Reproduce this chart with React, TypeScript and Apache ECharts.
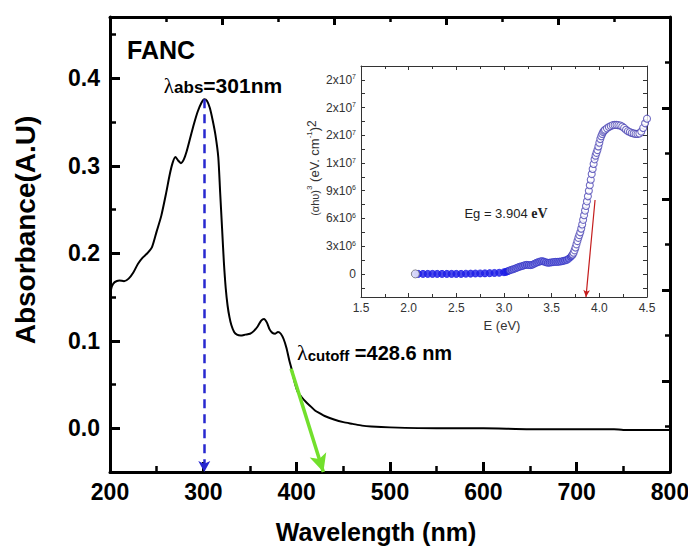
import React, { useEffect, useRef } from 'react';
import * as echarts from 'echarts';

// ---------- Main spectrum ----------
const wavelength = [200, 202, 205, 210, 215, 220, 225, 230, 235, 240, 245, 250, 255, 260, 264, 267, 270, 273, 276, 279, 282, 286, 290, 294, 298, 301, 304, 307, 310, 313, 316, 318, 320, 322, 324, 326, 328, 330, 333, 336, 340, 345, 350, 354, 358, 362, 365, 368, 371, 374, 377, 380, 383, 386, 389, 392, 395, 398, 401, 405, 410, 415, 420, 425, 430, 440, 450, 460, 470, 480, 500, 550, 600, 650, 700, 740, 750, 800];
const absorbance = [0.152, 0.162, 0.167, 0.169, 0.168, 0.171, 0.178, 0.188, 0.195, 0.2, 0.207, 0.225, 0.243, 0.268, 0.29, 0.303, 0.31, 0.306, 0.303, 0.307, 0.316, 0.332, 0.348, 0.362, 0.372, 0.376, 0.374, 0.366, 0.352, 0.335, 0.31, 0.27, 0.23, 0.19, 0.16, 0.14, 0.127, 0.118, 0.11, 0.107, 0.106, 0.107, 0.108, 0.111, 0.116, 0.123, 0.125, 0.121, 0.113, 0.109, 0.108, 0.11, 0.108, 0.102, 0.092, 0.078, 0.066, 0.052, 0.042, 0.036, 0.03, 0.025, 0.02, 0.017, 0.014, 0.01, 0.007, 0.005, 0.003, 0.002, 0.001, 0.0, 0.0, -0.001, -0.001, -0.001, -0.002, -0.002];

const mainYLabelValues = [0, 0.1, 0.2, 0.3, 0.4];
const mainYMinorValues = [0.05, 0.15, 0.25, 0.35, 0.45];

// annotations
const peakWavelength = 301;
const peakAbsorbance = 0.376;
const cutoffStart = [394, 0.068];
const cutoffWavelength = 428.6;

// ---------- Inset (Tauc plot) ----------
const insetEnergy = [2.07, 2.10, 2.15, 2.20, 2.25, 2.30, 2.35, 2.40, 2.45, 2.50, 2.55, 2.60, 2.65, 2.70, 2.75, 2.80, 2.85, 2.90, 2.95, 3.00,
  3.02, 3.04, 3.06, 3.08, 3.10, 3.12, 3.14, 3.16, 3.18, 3.20, 3.22, 3.24, 3.26, 3.28, 3.30, 3.32, 3.34, 3.36, 3.38, 3.40, 3.42, 3.44, 3.46, 3.48, 3.50, 3.52, 3.54, 3.56, 3.58, 3.60, 3.62, 3.64, 3.66, 3.68,
  3.70, 3.71, 3.72, 3.73, 3.74, 3.75, 3.76, 3.77, 3.78, 3.79, 3.80, 3.81, 3.82, 3.83, 3.84, 3.85, 3.86, 3.87, 3.88, 3.89, 3.90, 3.91, 3.92, 3.93, 3.94, 3.95, 3.96, 3.97, 3.98, 3.99, 4.00, 4.01, 4.02, 4.03, 4.04, 4.05, 4.06,
  4.08, 4.10, 4.12, 4.14, 4.16, 4.18, 4.20, 4.22, 4.24, 4.26, 4.28, 4.30, 4.32, 4.34, 4.36, 4.38, 4.40, 4.42, 4.44, 4.46, 4.48, 4.50];
const insetValue = [0, 0, 0, 0, 0, 0, 0, 0, 0, 0, 0, 0.02e6, 0.03e6, 0.04e6, 0.05e6, 0.06e6, 0.08e6, 0.1e6, 0.12e6, 0.18e6,
  0.22e6, 0.3e6, 0.38e6, 0.45e6, 0.52e6, 0.6e6, 0.68e6, 0.76e6, 0.82e6, 0.88e6, 0.95e6, 0.98e6, 0.96e6, 0.95e6, 1.0e6, 1.1e6, 1.2e6, 1.28e6, 1.35e6, 1.38e6, 1.33e6, 1.25e6, 1.2e6, 1.22e6, 1.25e6, 1.28e6, 1.3e6, 1.3e6, 1.32e6, 1.35e6, 1.4e6, 1.45e6, 1.52e6, 1.65e6,
  1.85e6, 1.95e6, 2.1e6, 2.3e6, 2.55e6, 2.85e6, 3.2e6, 3.55e6, 3.9e6, 4.2e6, 4.5e6, 4.9e6, 5.35e6, 5.85e6, 6.35e6, 6.85e6, 7.35e6, 7.85e6, 8.4e6, 9.0e6, 9.6e6, 10.2e6, 10.8e6, 11.35e6, 11.9e6, 12.4e6, 12.8e6, 13.1e6, 13.4e6, 13.8e6, 14.2e6, 14.6e6, 14.9e6, 15.15e6, 15.35e6, 15.5e6, 15.6e6,
  15.75e6, 15.9e6, 16.0e6, 16.1e6, 16.12e6, 16.12e6, 16.1e6, 16.05e6, 15.95e6, 15.8e6, 15.6e6, 15.45e6, 15.35e6, 15.25e6, 15.2e6, 15.15e6, 15.15e6, 15.2e6, 15.4e6, 15.8e6, 16.3e6, 16.8e6];

const insetYLabelValues = [0, 3e6, 6e6, 9e6, 1.2e7, 1.5e7, 1.8e7, 2.1e7];
const insetYTickValues = [-1.5e6, 0, 1.5e6, 3e6, 4.5e6, 6e6, 7.5e6, 9e6, 10.5e6, 1.2e7, 1.35e7, 1.5e7, 1.65e7, 1.8e7, 1.95e7, 2.1e7];
const bandGapArrowStart = [3.955, 8.0e6];
const bandGapArrowEnd = [3.86, -2.5e6];

const FONT = '"Liberation Sans", Arial, Helvetica, sans-serif';
const SERIF = '"Liberation Serif", "Times New Roman", serif';

function buildOption() {
  const mainData = wavelength.map((w, i) => [w, absorbance[i]]);
  const insetPts = insetEnergy.map((e, i) => [e, insetValue[i]]);
  const densePts = insetPts.filter((p) => p[0] < 3.05);
  const midPts = insetPts.filter((p) => p[0] >= 3.05 && p[0] < 3.72);
  const openPts = insetPts.filter((p) => p[0] >= 3.72);

  const thickLine = { lineStyle: { color: '#000', width: 3 } };
  const insetLine = { lineStyle: { color: '#333', width: 1 } };

  const supFormatter = (v: number) => {
    if (v === 0) return '0';
    const exp = Math.floor(Math.log10(v) + 1e-9);
    const m = Math.round(v / Math.pow(10, exp));
    return `${m}x10{sup|${exp}}`;
  };

  return {
    animation: false,
    backgroundColor: '#fff',
    grid: [
      { left: 110, top: 17, width: 560, height: 455, outerBoundsMode: 'none', containLabel: false },
      { left: 361, top: 66, width: 286, height: 231, outerBoundsMode: 'none', containLabel: false },
    ],
    xAxis: [
      {
        gridIndex: 0, type: 'value', position: 'bottom', min: 200, max: 800, interval: 100,
        axisLine: { show: true, onZero: false, ...thickLine },
        axisTick: { show: true, inside: true, length: 10, lineStyle: { color: '#000', width: 3 } },
        minorTick: { show: true, splitNumber: 2, length: 6, lineStyle: { color: '#000', width: 2.5 } },
        splitLine: { show: false },
        axisLabel: { show: true, fontFamily: FONT, fontWeight: 'bold', fontSize: 23, color: '#000', margin: 8 },
      },
      {
        gridIndex: 0, type: 'value', position: 'top', min: 0, max: 10, interval: 2,
        axisLine: { show: true, onZero: false, ...thickLine },
        axisTick: { show: true, inside: true, length: 8, lineStyle: { color: '#000', width: 3 } },
        minorTick: { show: true, splitNumber: 2, length: 5, lineStyle: { color: '#000', width: 2.5 } },
        splitLine: { show: false },
        axisLabel: { show: false },
      },
      {
        gridIndex: 1, type: 'value', position: 'bottom', min: 1.5, max: 4.5, interval: 0.5,
        axisLine: { show: true, onZero: false, ...insetLine },
        axisTick: { show: true, inside: true, length: 4, lineStyle: { color: '#333', width: 1 } },
        minorTick: { show: true, splitNumber: 2, length: 3, lineStyle: { color: '#333', width: 1 } },
        splitLine: { show: false },
        axisLabel: { show: true, fontFamily: FONT, fontSize: 12, color: '#333', margin: 5, formatter: (v: number) => v.toFixed(1) },
      },
      {
        gridIndex: 1, type: 'value', position: 'top', min: 1.5, max: 4.5, interval: 0.5,
        axisLine: { show: true, onZero: false, ...insetLine },
        axisTick: { show: true, inside: true, length: 4, lineStyle: { color: '#333', width: 1 } },
        minorTick: { show: true, splitNumber: 2, length: 3, lineStyle: { color: '#333', width: 1 } },
        splitLine: { show: false },
        axisLabel: { show: false },
      },
    ],
    yAxis: [
      {
        gridIndex: 0, type: 'value', position: 'left', min: -0.05, max: 0.47,
        axisLine: { show: true, onZero: false, ...thickLine },
        axisTick: { show: true, inside: true, length: 10, customValues: mainYLabelValues, lineStyle: { color: '#000', width: 3 } },
        splitLine: { show: false },
        axisLabel: { show: true, customValues: mainYLabelValues, fontFamily: FONT, fontWeight: 'bold', fontSize: 23, color: '#000', margin: 10, formatter: (v: number) => v.toFixed(1) },
      },
      {
        gridIndex: 0, type: 'value', position: 'right', min: 0, max: 10, interval: 2,
        axisLine: { show: true, onZero: false, ...thickLine },
        axisTick: { show: true, inside: true, length: 8, lineStyle: { color: '#000', width: 3 } },
        minorTick: { show: true, splitNumber: 2, length: 5, lineStyle: { color: '#000', width: 2.5 } },
        splitLine: { show: false },
        axisLabel: { show: false },
      },
      {
        gridIndex: 0, type: 'value', position: 'left', min: -0.05, max: 0.47,
        axisLine: { show: false },
        axisTick: { show: true, inside: true, length: 6, customValues: mainYMinorValues, lineStyle: { color: '#000', width: 2.5 } },
        splitLine: { show: false },
        axisLabel: { show: false },
      },
      {
        gridIndex: 1, type: 'value', position: 'left', min: -2.5e6, max: 2.25e7,
        axisLine: { show: true, onZero: false, ...insetLine },
        axisTick: { show: true, inside: true, length: 4, customValues: insetYTickValues, lineStyle: { color: '#333', width: 1 } },
        splitLine: { show: false },
        axisLabel: {
          show: true, customValues: insetYLabelValues, fontFamily: FONT, fontSize: 12, color: '#333', margin: 5,
          formatter: supFormatter,
          rich: { sup: { fontFamily: FONT, fontSize: 7, color: '#333', verticalAlign: 'top', padding: [0, 0, 6, 0] } },
        },
      },
      {
        gridIndex: 1, type: 'value', position: 'right', min: -2.5e6, max: 2.25e7,
        axisLine: { show: true, onZero: false, ...insetLine },
        axisTick: { show: true, inside: true, length: 4, customValues: insetYTickValues, lineStyle: { color: '#333', width: 1 } },
        splitLine: { show: false },
        axisLabel: { show: false },
      },
    ],
    series: [
      {
        name: 'Absorbance', type: 'line', xAxisIndex: 0, yAxisIndex: 0, data: mainData,
        showSymbol: false, smooth: 0.25, lineStyle: { color: '#000', width: 2 }, z: 3,
        markLine: {
          silent: true, animation: false, label: { show: false }, symbol: ['none', 'arrow'],
          data: [
            [
              { coord: [peakWavelength, peakAbsorbance], symbol: 'none', lineStyle: { color: '#2828d0', width: 2.5, type: [9, 6] } },
              { coord: [peakWavelength, -0.05], symbol: 'arrow', symbolSize: [9, 11] },
            ],
            [
              { coord: cutoffStart, symbol: 'none', lineStyle: { color: '#72e02c', width: 3.5, type: 'solid' } },
              { coord: [cutoffWavelength, -0.05], symbol: 'arrow', symbolSize: [13, 18] },
            ],
          ],
        },
      },
      {
        name: 'Tauc dense', type: 'scatter', xAxisIndex: 2, yAxisIndex: 3, data: densePts,
        symbol: 'circle', symbolSize: 7,
        itemStyle: { color: '#1e1ee6', borderColor: '#1e1ee6', borderWidth: 1 }, z: 4,
      },
      {
        name: 'Tauc mid', type: 'scatter', xAxisIndex: 2, yAxisIndex: 3, data: midPts,
        symbol: 'circle', symbolSize: 7,
        itemStyle: { color: '#7272dc', borderColor: '#3434c4', borderWidth: 1 }, z: 4,
      },
      {
        name: 'Tauc open', type: 'scatter', xAxisIndex: 2, yAxisIndex: 3, data: openPts,
        symbol: 'circle', symbolSize: 7,
        itemStyle: { color: '#ffffff', borderColor: '#4c46b4', borderWidth: 1.1 }, z: 4,
        markLine: {
          silent: true, animation: false, label: { show: false }, symbol: ['none', 'arrow'],
          data: [
            [
              { coord: bandGapArrowStart, symbol: 'none', lineStyle: { color: '#c41c1c', width: 1.2, type: 'solid' } },
              { coord: bandGapArrowEnd, symbol: 'arrow', symbolSize: [5, 7] },
            ],
          ],
        },
      },
      {
        name: 'Tauc first', type: 'scatter', xAxisIndex: 2, yAxisIndex: 3, data: [insetPts[0]],
        symbol: 'circle', symbolSize: 8,
        itemStyle: { color: '#ffffff', borderColor: '#777', borderWidth: 1 }, z: 5,
      },
    ],
    graphic: {
      elements: [
        {
          type: 'text', x: 127, y: 50,
          style: { text: 'FANC', fontFamily: FONT, fontWeight: 'bold', fontSize: 25, fill: '#000', align: 'left', verticalAlign: 'middle' },
        },
        {
          type: 'text', x: 223, y: 84,
          style: {
            text: '{l|λ}{s|abs}{b|=301nm}', align: 'center', verticalAlign: 'middle', fill: '#000',
            rich: {
              l: { fontFamily: SERIF, fontSize: 21, fill: '#000', verticalAlign: 'bottom', lineHeight: 24 },
              s: { fontFamily: FONT, fontWeight: 'bold', fontSize: 17, fill: '#000', verticalAlign: 'bottom', lineHeight: 22 },
              b: { fontFamily: FONT, fontWeight: 'bold', fontSize: 21, fill: '#000', verticalAlign: 'bottom', lineHeight: 24 },
            },
          },
        },
        {
          type: 'text', x: 297, y: 351,
          style: {
            text: '{l|λ}{s|cutoff}{b| =428.6 nm}', align: 'left', verticalAlign: 'middle', fill: '#000',
            rich: {
              l: { fontFamily: SERIF, fontSize: 22, fill: '#000', verticalAlign: 'bottom', lineHeight: 24 },
              s: { fontFamily: FONT, fontWeight: 'bold', fontSize: 15, fill: '#000', verticalAlign: 'bottom', lineHeight: 20 },
              b: { fontFamily: FONT, fontWeight: 'bold', fontSize: 20, fill: '#000', verticalAlign: 'bottom', lineHeight: 24 },
            },
          },
        },
        {
          type: 'text', x: 506, y: 213,
          style: {
            text: '{a|Eg = 3.904 }{b|eV}', align: 'center', verticalAlign: 'middle',
            rich: {
              a: { fontFamily: FONT, fontSize: 13, fill: '#222' },
              b: { fontFamily: SERIF, fontWeight: 'bold', fontSize: 14, fill: '#222' },
            },
          },
        },
        {
          type: 'text', x: 502, y: 325,
          style: { text: 'E (eV)', fontFamily: FONT, fontSize: 13, fill: '#333', align: 'center', verticalAlign: 'middle' },
        },
        {
          type: 'text', x: 313, y: 168, rotation: Math.PI / 2,
          style: {
            text: '{a|(αhυ)}{s|3}{b| (eV. cm}{s|-1}{b|)}{t|2}', align: 'center', verticalAlign: 'middle',
            rich: {
              a: { fontFamily: FONT, fontSize: 11, fill: '#333', verticalAlign: 'bottom', lineHeight: 15 },
              b: { fontFamily: FONT, fontSize: 13, fill: '#333', verticalAlign: 'bottom', lineHeight: 15 },
              s: { fontFamily: FONT, fontSize: 8, fill: '#333', verticalAlign: 'top', lineHeight: 9 },
              t: { fontFamily: FONT, fontSize: 12, fill: '#333', verticalAlign: 'top', lineHeight: 12 },
            },
          },
        },
        {
          type: 'text', x: 25, y: 230, rotation: Math.PI / 2,
          style: { text: 'Absorbance(A.U)', fontFamily: FONT, fontWeight: 'bold', fontSize: 28, fill: '#000', align: 'center', verticalAlign: 'middle' },
        },
        {
          type: 'text', x: 376, y: 532,
          style: { text: 'Wavelength (nm)', fontFamily: FONT, fontWeight: 'bold', fontSize: 25, fill: '#000', align: 'center', verticalAlign: 'middle' },
        },
      ],
    },
  };
}

export default function App() {
  const ref = useRef<HTMLDivElement>(null);
  useEffect(() => {
    if (!ref.current) return;
    const chart = echarts.init(ref.current, null, { renderer: 'svg' });
    chart.setOption(buildOption() as any);
    return () => chart.dispose();
  }, []);
  return <div ref={ref} style={{ position: 'fixed', left: 0, top: 0, width: 688, height: 551, background: '#fff' }} />;
}
